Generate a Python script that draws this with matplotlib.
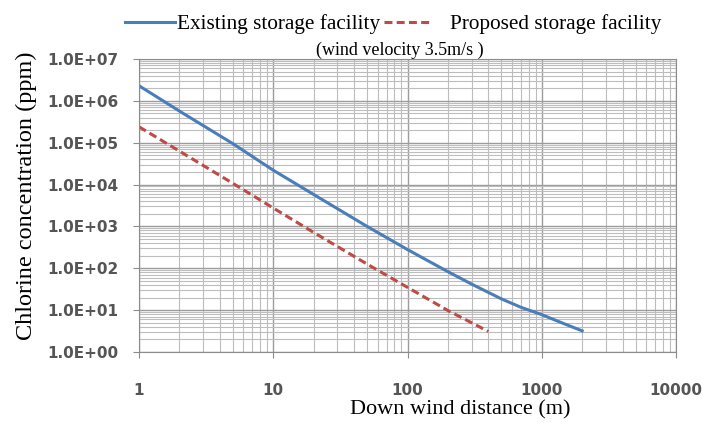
import matplotlib
matplotlib.use("Agg")
import matplotlib.pyplot as plt
from matplotlib.ticker import LogLocator, FixedLocator

# down wind distance (m)
dist_existing = [1, 2, 5, 10, 20, 50, 100, 200, 300, 500, 700, 1000, 1500, 2000]
dist_proposed = [1, 2, 5, 10, 20, 50, 100, 200, 400]

# chlorine concentration (ppm)
conc_existing = [2.3e6, 5.7e5, 9.5e4, 2.2e4, 5.8e3, 1.0e3, 280, 83, 42, 18.6,
                 11.7, 7.8, 4.6, 3.2]
conc_proposed = [2.4e5, 6.3e4, 1.07e4, 2.75e3, 720, 126, 35, 9.8, 3.1]

x_ticks = [1, 10, 100, 1000, 10000]
x_ticklabels = ["1", "10", "100", "1000", "10000"]
y_ticks = [1e0, 1e1, 1e2, 1e3, 1e4, 1e5, 1e6, 1e7]
y_ticklabels = ["1.0E+00", "1.0E+01", "1.0E+02", "1.0E+03",
                "1.0E+04", "1.0E+05", "1.0E+06", "1.0E+07"]

serif = ["Liberation Serif", "DejaVu Serif"]

fig = plt.figure(figsize=(7.05, 4.24), dpi=100)
ax = fig.add_axes([139 / 705, 72 / 424, 537 / 705, 293 / 424])

line1, = ax.plot(dist_existing, conc_existing, color="#4a7ebb", lw=2.2,
                 label="Existing storage facility")
line2, = ax.plot(dist_proposed, conc_proposed, color="#be4b48", lw=2.2,
                 dashes=(2.6, 1.4), label="Proposed storage facility")

ax.set_xscale("log")
ax.set_yscale("log")
ax.set_xlim(1, 10000)
ax.set_ylim(1, 1e7)

ax.xaxis.set_major_locator(FixedLocator(x_ticks))
ax.yaxis.set_major_locator(FixedLocator(y_ticks))
ax.xaxis.set_minor_locator(LogLocator(base=10, subs=range(2, 10), numticks=20))
ax.yaxis.set_minor_locator(LogLocator(base=10, subs=range(2, 10), numticks=20))
ax.set_xticklabels(x_ticklabels)
ax.set_yticklabels(y_ticklabels)

ax.grid(which="major", color="#9c9c9c", lw=1.0)
ax.grid(which="minor", color="#bdbdbd", lw=0.8)
ax.set_axisbelow(True)

for s in ax.spines.values():
    s.set_color("#8c8c8c")
ax.tick_params(which="major", length=4, color="#8c8c8c", labelsize=11,
               labelcolor="#555555")
ax.tick_params(which="minor", length=0)
ax.tick_params(axis="x", pad=18)
ax.tick_params(axis="y", pad=11)
for lab in ax.get_xticklabels() + ax.get_yticklabels():
    lab.set_family("DejaVu Sans")
    lab.set_fontweight("bold")

fig.text(26 / 705, 1 - 196 / 424, "Chlorine concentration (ppm)", rotation=90,
         ha="center", va="center", fontsize=17.5, family=serif)
fig.text(460 / 705, 1 - 410 / 424, "Down wind distance (m)",
         ha="center", va="center", fontsize=16, family=serif)
fig.text(400 / 705, 1 - 50 / 424, "(wind velocity 3.5m/s )",
         ha="center", va="center", fontsize=13, family=serif)

# two legend entries placed separately, like the original layout
leg1 = fig.legend([line1], [line1.get_label()], loc="center left",
                  bbox_to_anchor=(125 / 705, 1 - 24 / 424), frameon=False,
                  borderpad=0, borderaxespad=0, handlelength=2.35,
                  handletextpad=0.1, prop={"family": serif, "size": 15.3})
leg2 = fig.legend([line2], [line2.get_label()], loc="center left",
                  bbox_to_anchor=(384 / 705, 1 - 24 / 424), frameon=False,
                  borderpad=0, borderaxespad=0, handlelength=2.2,
                  handletextpad=0.9, prop={"family": serif, "size": 15.3})

fig.savefig("out.png", dpi=100)
